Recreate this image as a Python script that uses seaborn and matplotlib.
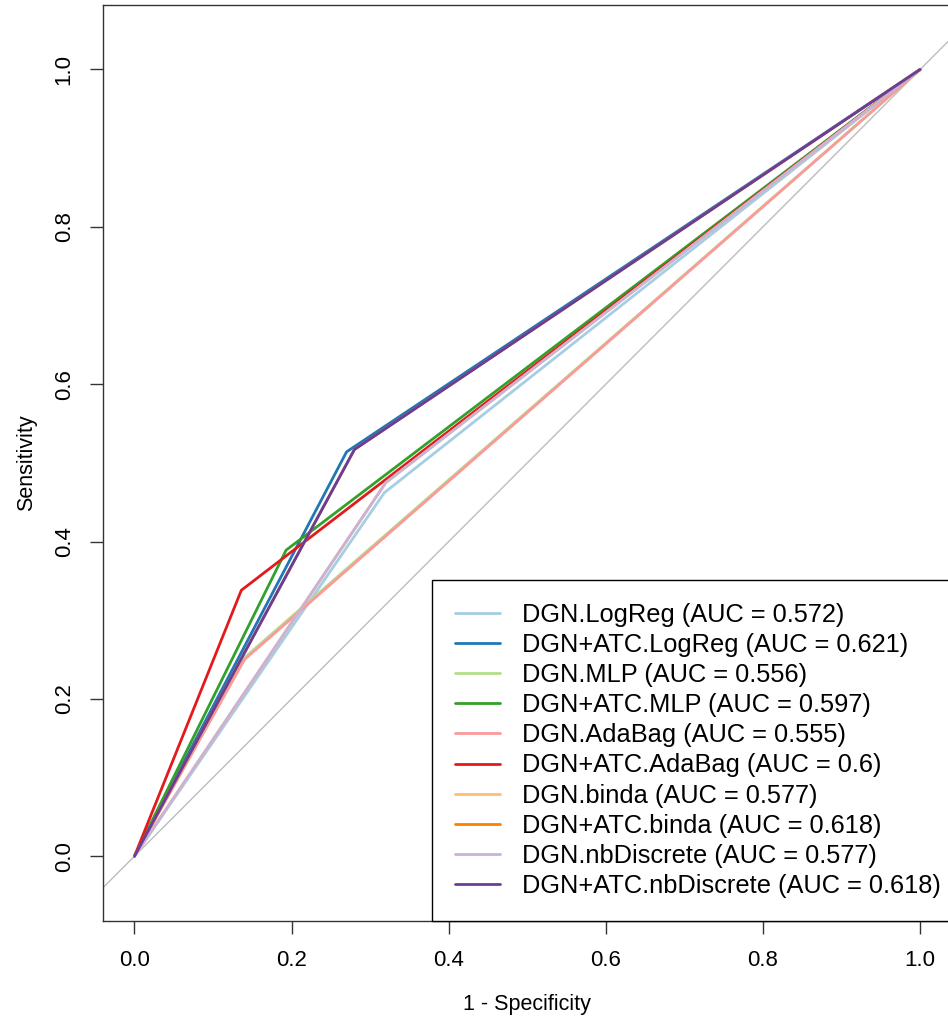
import pandas as pd
import matplotlib
matplotlib.use("Agg")
import matplotlib.pyplot as plt
import seaborn as sns

models = ["DGN.LogReg", "DGN+ATC.LogReg", "DGN.MLP", "DGN+ATC.MLP",
          "DGN.AdaBag", "DGN+ATC.AdaBag", "DGN.binda", "DGN+ATC.binda",
          "DGN.nbDiscrete", "DGN+ATC.nbDiscrete"]
auc_text = ["0.572", "0.621", "0.556", "0.597", "0.555",
            "0.6", "0.577", "0.618", "0.577", "0.618"]
# single cut-point ROC curves: (0,0) -> knee -> (1,1)
knee_fpr = [0.318, 0.270, 0.142, 0.193, 0.140, 0.136, 0.320, 0.280, 0.320, 0.280]
knee_tpr = [0.462, 0.514, 0.254, 0.389, 0.250, 0.338, 0.475, 0.517, 0.475, 0.517]

def main():
    sns.set_style("white")
    plt.rcParams['font.family'] = ['Liberation Sans', 'DejaVu Sans']
    plt.rcParams['text.color'] = 'black'
    plt.rcParams['axes.labelcolor'] = 'black'
    plt.rcParams['xtick.color'] = 'black'
    plt.rcParams['ytick.color'] = 'black'

    rows = []
    for m, a, fx, ty in zip(models, auc_text, knee_fpr, knee_tpr):
        label = f"{m} (AUC = {a})"
        for x, y in [(0.0, 0.0), (fx, ty), (1.0, 1.0)]:
            rows.append({"model": label, "fpr": x, "tpr": y})
    df = pd.DataFrame(rows)
    labels = [f"{m} (AUC = {a})" for m, a in zip(models, auc_text)]

    fig = plt.figure(figsize=(9.48, 10.16), dpi=100)
    ax = fig.add_axes([0.1087, 0.0938, 0.895, 0.9013])

    # chance diagonal
    ax.axline((0, 0), (1, 1), color="#bdbdbd", lw=1, zorder=1)

    palette = sns.color_palette("Paired", 10)
    sns.lineplot(data=df, x="fpr", y="tpr", hue="model", hue_order=labels,
                 palette=palette, sort=False, estimator=None, lw=2,
                 ax=ax, zorder=2)

    ax.set_xlim(-0.04, 1.04)
    ax.set_ylim(-0.082, 1.082)
    ax.set_xticks([0.0, 0.2, 0.4, 0.6, 0.8, 1.0])
    ax.set_yticks([0.0, 0.2, 0.4, 0.6, 0.8, 1.0])
    ax.set_xticklabels(["0.0", "0.2", "0.4", "0.6", "0.8", "1.0"])
    ax.set_yticklabels(["0.0", "0.2", "0.4", "0.6", "0.8", "1.0"],
                       rotation=90, va="center")
    ax.tick_params(direction="out", length=9.4, width=1, color="#333333",
                   labelcolor="black", labelsize=16, bottom=True, left=True)
    ax.tick_params(axis="x", pad=12)
    ax.tick_params(axis="y", pad=11)
    for s in ax.spines.values():
        s.set_color("#333333")
        s.set_linewidth(1)

    ax.set_xlabel("1 - Specificity", fontsize=15.5, labelpad=16)
    ax.set_ylabel("Sensitivity", fontsize=15.5, labelpad=12)

    # legend box runs past the right edge of the plot, as in the original
    handles, lbls = ax.get_legend_handles_labels()
    leg = ax.legend(handles, lbls, loc="lower right", bbox_to_anchor=(1.014, 0),
                    fontsize=18.3, frameon=True, fancybox=False,
                    borderaxespad=0, borderpad=0.9, labelspacing=0.24,
                    handlelength=1.77, handletextpad=0.87,
                    edgecolor="black", framealpha=1)
    leg.get_frame().set_linewidth(1)
    for h in leg.get_lines():
        h.set_linewidth(2)
    for t in leg.get_texts():
        t.set_color("black")

    plt.savefig("out.png", dpi=100)

if __name__ == '__main__':
    main()
